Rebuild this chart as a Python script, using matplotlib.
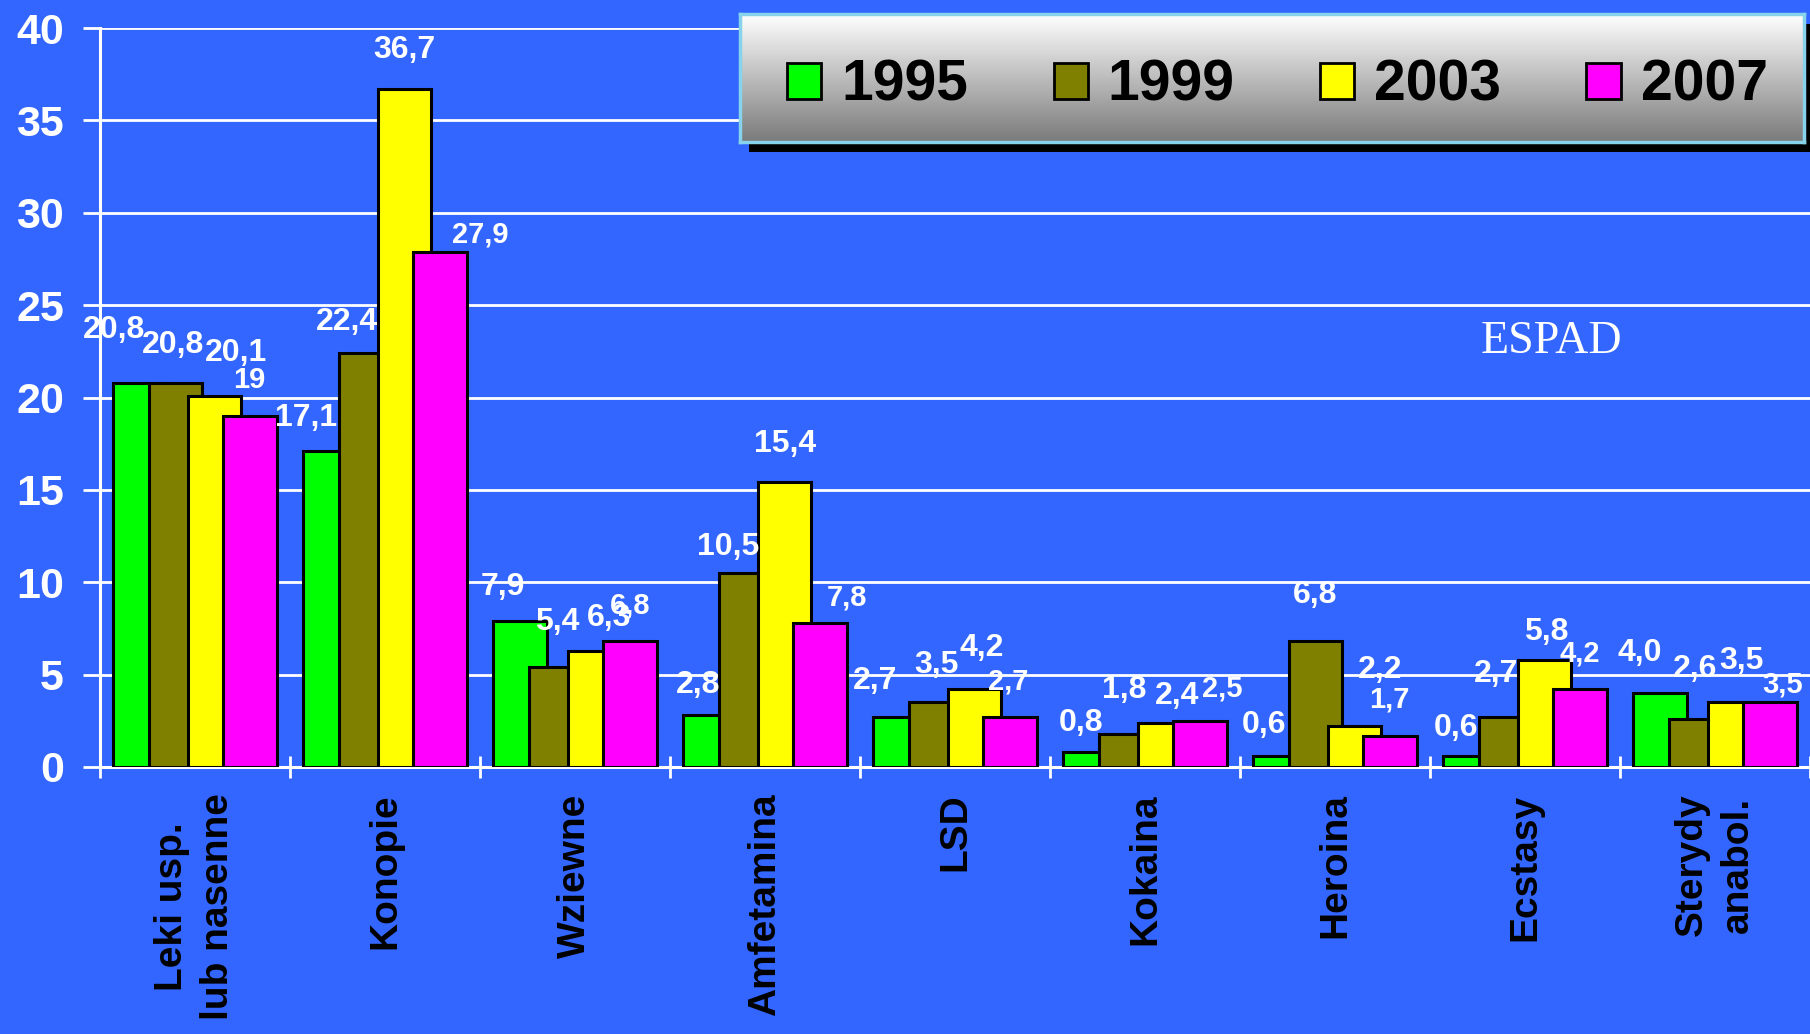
import numpy as np
import matplotlib
matplotlib.use("Agg")
import matplotlib.pyplot as plt
from matplotlib.patches import Patch, Rectangle
from matplotlib.colors import LinearSegmentedColormap

plt.rcParams["font.family"] = ["Liberation Sans", "DejaVu Sans"]
plt.rcParams["font.weight"] = "bold"

# --- data (labels as printed) ---
categories = ["Leki usp.\nlub nasenne", "Konopie", "Wziewne", "Amfetamina", "LSD",
              "Kokaina", "Heroina", "Ecstasy", "Sterydy\nanabol."]
years = ["1995", "1999", "2003", "2007"]
labels_1995 = ["20,8", "17,1", "7,9", "2,8", "2,7", "0,8", "0,6", "0,6", "4,0"]
labels_1999 = ["20,8", "22,4", "5,4", "10,5", "3,5", "1,8", "6,8", "2,7", "2,6"]
labels_2003 = ["20,1", "36,7", "6,3", "15,4", "4,2", "2,4", "2,2", "5,8", "3,5"]
labels_2007 = ["19", "27,9", "6,8", "7,8", "2,7", "2,5", "1,7", "4,2", "3,5"]

series_labels = [labels_1995, labels_1999, labels_2003, labels_2007]
series_values = [[float(s.replace(",", ".")) for s in lab] for lab in series_labels]

# --- style ---
BG = "#3366FF"
colors = ["#00FF00", "#808000", "#FFFF00", "#FF00FF"]
bar_offsets = [-0.288, -0.103, 0.103, 0.288]
bar_width = 0.282
label_sizes = [23, 23, 23, 21]

# label nudges (pixels: right, up from bar top) - the slide's labels sit unevenly
nudge_1995 = [(-26, 53), (-24, 33), (-17, 34), (-12, 30), (-25, 36), (-9, 29), (-16, 31), (-14, 28), (-21, 40)]
nudge_1999 = [(-2, 38), (-18, 31), (2, 45), (-17, 26), (1, 37), (-1, 44), (0, 46), (-9, 43), (0, 50)]
nudge_2003 = [(21, 43), (0, 39), (14, 33), (0, 38), (7, 41), (12, 27), (25, 56), (2, 28), (7, 41)]
nudge_2007 = [(0, 36), (41, 17), (0, 36), (27, 25), (-2, 36), (23, 32), (0, 36), (0, 36), (13, 18)]
nudges = [nudge_1995, nudge_1999, nudge_2003, nudge_2007]

W, H = 1810, 1034
fig = plt.figure(figsize=(W / 100, H / 100), dpi=100, facecolor=BG)
ax = fig.add_axes([100 / W, 1 - 767 / H, 1 - 100 / W, (767 - 28) / H], facecolor=BG)

x = np.arange(len(categories))
for i in range(len(years)):
    ax.bar(x + bar_offsets[i], series_values[i], width=bar_width, color=colors[i],
           edgecolor="black", linewidth=2.2, zorder=3)
    for j, (v, txt) in enumerate(zip(series_values[i], series_labels[i])):
        dx, dy = nudges[i][j]
        ax.annotate(txt, xy=(x[j] + bar_offsets[i], v), xytext=(dx * 0.72, dy * 0.72),
                    textcoords="offset points", ha="center", va="center",
                    color="white", fontsize=label_sizes[i], zorder=6)

ax.set_xlim(-0.5, len(categories) - 0.5)
ax.set_ylim(0, 40)
ax.set_yticks(range(0, 41, 5))
ax.yaxis.grid(True, color="white", linewidth=2)
ax.set_axisbelow(True)

for side in ["top", "right"]:
    ax.spines[side].set_visible(False)
for side in ["left", "bottom"]:
    ax.spines[side].set_color("white")
    ax.spines[side].set_linewidth(2.2)

ax.tick_params(axis="y", colors="white", length=12, width=2, pad=14, labelsize=31)
ax.set_xticks(x, categories, rotation=90, fontsize=28, color="black", linespacing=1.35)
ax.set_xticks(np.arange(-0.5, len(categories)), minor=True)
ax.tick_params(axis="x", which="major", length=0, pad=19)
ax.tick_params(axis="x", which="minor", direction="inout", length=16, width=2, color="white")

# ESPAD tag
fig.text(1551 / W, 1 - 342 / H, "ESPAD", color="white", fontsize=33,
         family="Liberation Serif", weight="normal", ha="center", va="center")

# legend box: shadow, gradient fill, cyan border
lx0, ly0, lx1, ly1 = 740, 14, 1804, 142
fig.patches.append(Rectangle(((lx0 + 9) / W, 1 - (ly1 + 10) / H), (lx1 - lx0) / W, (ly1 - ly0) / H,
                             transform=fig.transFigure, facecolor="black", edgecolor="none", zorder=9))
lax = fig.add_axes([lx0 / W, 1 - ly1 / H, (lx1 - lx0) / W, (ly1 - ly0) / H], zorder=10)
grad = LinearSegmentedColormap.from_list("grad", ["#7A7A7A", "#FFFFFF"])
lax.imshow(np.linspace(0, 1, 256).reshape(-1, 1), cmap=grad, aspect="auto",
           extent=[0, 1, 0, 1], origin="lower")
lax.set_xticks([])
lax.set_yticks([])
for s in lax.spines.values():
    s.set_color("#87D3EB")
    s.set_linewidth(2.5)

handles = [Patch(facecolor=c, edgecolor="black", linewidth=2, label=y) for c, y in zip(colors, years)]
lax.legend(handles=handles, loc="center", bbox_to_anchor=(0.505, 0.44), ncol=4, frameon=False,
           prop={"size": 41, "weight": "bold"}, handlelength=0.6, handleheight=0.6,
           handletextpad=0.35, columnspacing=1.5, borderaxespad=0)

fig.savefig("out.png", dpi=100, facecolor=BG)
